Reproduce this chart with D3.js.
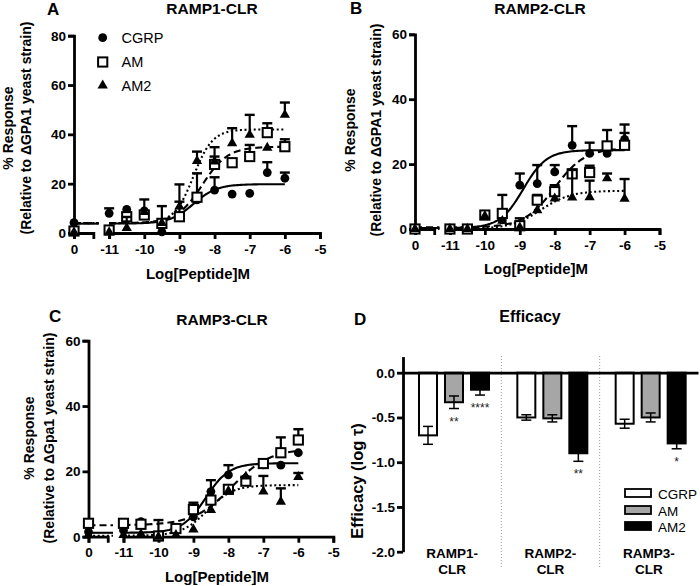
<!DOCTYPE html>
<html><head><meta charset="utf-8">
<script src="https://cdn.jsdelivr.net/npm/d3@7"></script>
<style>
body{margin:0;background:#fff;}
svg{display:block;font-family:"Liberation Sans",Arial,sans-serif;}
</style></head><body>
<svg id="c" width="700" height="586"></svg>
<script>
// ---------- DATA ----------
const doses = [0, -11, -10.5, -10, -9.5, -9, -8.5, -8, -7.5, -7, -6.5, -6];
const xTickLabels = ["0", "-11", "-10", "-9", "-8", "-7", "-6", "-5"];
const series = ["CGRP", "AM", "AM2"];

// Panel A: RAMP1-CLR
const aCGRP    = [4.2, 8.0, 9.6, 9.0, 0.5, 7.0, 13.4, 17.4, 15.8, 16.1, 24.5, 22.2];
const aCGRPErr = [0, 2.0, 0, 4.6, 0, 0, 0, 5.2, 0, 0, 4.2, 2.3];
const aAM      = [0.8, 1.2, 6.6, 7.3, 3.9, 6.6, 14.5, 27.8, 28.5, 31.0, 40.7, 35.0];
const aAMErr   = [0, 0, 0, 0, 7.0, 6.1, 9.7, 3.2, 0, 4.7, 3.8, 3.0];
const aAM2     = [0.3, 0.3, 2.0, 8.5, 4.0, 10.7, 29.2, 29.0, 36.4, 39.8, 34.6, 47.9];
const aAM2Err  = [0, 0, 4.5, 0, 0, 9.0, 3.8, 5.8, 6.1, 8.1, 0, 5.0];
// fitted curves: [bottom, top, logEC50, hill]
const aFitCGRP = [3.8, 19.8, -8.6, 1.3];
const aFitAM   = [4.0, 35.0, -8.35, 1.2];
const aFitAM2  = [4.0, 42.0, -8.6, 1.6];

// Panel B: RAMP2-CLR
const bCGRP    = [0, 0, 0, 4.3, 2.8, 13.5, 14.0, 17.6, 25.8, 23.3, 23.3, 27.6];
const bCGRPErr = [0, 0, 0, 0, 0, 3.6, 5.7, 2.1, 5.9, 3.3, 0, 4.6];
const bAM      = [0, 0, 0, 4.3, 4.8, 1.0, 8.9, 11.5, 17.0, 17.4, 25.6, 25.8];
const bAMErr   = [0, 0, 0, 0, 5.7, 2.3, 1.6, 2.0, 1.2, 2.1, 4.9, 3.8];
const bAM2     = [0, 0, 0, 4.0, 2.5, 0.5, 5.8, 9.4, 9.7, 9.8, 15.6, 9.3];
const bAM2Err  = [0, 0, 0, 0, 0, 0, 0, 0, 8.5, 5.1, 1.5, 6.1];
const bFitCGRP = [0.3, 24.3, -8.9, 1.3];
const bFitAM   = [0.5, 25.0, -8.0, 1.0];
const bFitAM2  = [0.0, 11.8, -8.4, 1.0];

// Panel C: RAMP3-CLR
const cCGRP    = [1.5, 2.0, 4.6, 0.5, 2.0, 6.1, 13.8, 18.9, 17.8, 22.0, 21.9, 25.7];
const cCGRPErr = [0, 0, 0, 4.6, 0, 0, 3.5, 3.0, 0, 0, 0, 0];
const cAM      = [4.1, 4.1, 3.8, 0.2, 2.5, 8.3, 11.2, 14.5, 17.0, 22.4, 25.7, 29.6];
const cAMErr   = [0, 0, 0, 0, 0, 2.1, 0, 0, 0, 0, 4.7, 3.3];
const cAM2     = [0.5, 0.5, 0.8, 0.0, 0.5, 2.2, 8.2, 14.0, 18.4, 13.8, 10.7, 18.3];
const cAM2Err  = [0, 0, 0, 0, 0, 0, 0, 0, 0, 4.8, 4.1, 1.2];
const cFitCGRP = [1.2, 22.5, -8.65, 1.3];
const cFitAM   = [3.5, 27.0, -7.9, 0.8];
const cFitAM2  = [0.3, 15.8, -8.6, 1.2];

// Panel D: Efficacy
const dGroups   = ["RAMP1-CLR", "RAMP2-CLR", "RAMP3-CLR"];
const dCGRP     = [-0.70, -0.50, -0.57];
const dCGRPErr  = [0.10, 0.03, 0.05];
const dAM       = [-0.33, -0.51, -0.50];
const dAMErr    = [0.07, 0.04, 0.05];
const dAM2      = [-0.19, -0.90, -0.79];
const dAM2Err   = [0.06, 0.09, 0.06];
const dCGRPSig  = ["", "", ""];
const dAMSig    = ["**", "", ""];
const dAM2Sig   = ["****", "**", "*"];
const dYTicks   = [0, -0.5, -1.0, -1.5, -2.0];

// ---------- DRAWING ----------
const svg = d3.select("#c");
const FONT = '"Liberation Sans", Arial, sans-serif';

function styleAxis(g, fs) {
  g.selectAll(".domain").attr("stroke", "#000").attr("stroke-width", 2.8);
  g.selectAll(".tick line").attr("stroke", "#000").attr("stroke-width", 2.8);
  g.selectAll(".tick text").attr("font-size", fs).attr("font-weight", "bold")
    .attr("fill", "#000").attr("font-family", FONT);
}
function fourPL(p, x) { return p[0] + (p[1] - p[0]) / (1 + Math.pow(10, (p[2] - x) * p[3])); }

const styles = {
  CGRP: { dash: null },
  AM:   { dash: "7,4" },
  AM2:  { dash: "2,2.6" }
};

function marker(g, s, cx, cy) {
  if (s === "CGRP") {
    g.append("circle").attr("cx", cx).attr("cy", cy).attr("r", 4.4).attr("fill", "#000");
  } else if (s === "AM") {
    g.append("rect").attr("x", cx - 4.6).attr("y", cy - 4.6).attr("width", 9.2).attr("height", 9.2)
      .attr("fill", "#fff").attr("stroke", "#000").attr("stroke-width", 2);
  } else {
    g.append("path").attr("d", d3.symbol().type(d3.symbolTriangle).size(46)())
      .attr("transform", `translate(${cx},${cy})`).attr("fill", "#000");
  }
}

function drawDR(cfg) {
  const g = svg.append("g");
  const x = d3.scaleLinear().domain([-12, -5]).range(cfg.xr);
  const y = d3.scaleLinear().domain([0, cfg.ymax]).range(cfg.yr);
  const pos = d => d === 0 ? -12 : d;

  // fitted curves
  const line = d3.line().x(d => x(d[0])).y(d => y(d[1]));
  series.forEach(s => {
    const p = cfg.fits[s];
    const pts = d3.range(-11, -5.999, 0.05).map(v => [v, fourPL(p, v)]);
    g.append("path").attr("d", line(pts)).attr("fill", "none").attr("stroke", "#000")
      .attr("stroke-width", 2.1).attr("stroke-dasharray", styles[s].dash);
    g.append("path").attr("d", line([[-12, p[0]], [-11.3, p[0]]])).attr("fill", "none")
      .attr("stroke", "#000").attr("stroke-width", 2.1).attr("stroke-dasharray", styles[s].dash);
  });

  // axes
  const ya = g.append("g").attr("transform", `translate(${x(-12)},0)`)
    .call(d3.axisLeft(y).tickValues(cfg.yTicks).tickSize(6).tickPadding(2).tickFormat(d => String(d)));
  styleAxis(ya, 13.5);
  const xz = d3.scaleLinear().domain([-12, -11.45]).range([x(-12), x(-11.45)]);
  const xa0 = g.append("g").attr("transform", `translate(0,${y(0)})`)
    .call(d3.axisBottom(xz).tickValues([-12]).tickFormat(() => xTickLabels[0]).tickSize(6).tickPadding(5));
  styleAxis(xa0, 13.5);
  const xm = d3.scaleLinear().domain([-11, -5]).range([x(-11), x(-5)]);
  const mainTicks = d3.range(-11, -4, 1);
  const xa1 = g.append("g").attr("transform", `translate(0,${y(0)})`)
    .call(d3.axisBottom(xm).tickValues(mainTicks).tickFormat((d, i) => xTickLabels[i + 1]).tickSize(6).tickPadding(5));
  styleAxis(xa1, 13.5);

  // error bars + points
  series.forEach(s => {
    const vals = cfg.vals[s], errs = cfg.errs[s];
    doses.forEach((d, i) => {
      const cx = x(pos(d)), cy = y(vals[i]);
      if (errs[i] > 0) {
        const ty = y(vals[i] + errs[i]);
        g.append("line").attr("x1", cx).attr("x2", cx).attr("y1", cy).attr("y2", ty)
          .attr("stroke", "#000").attr("stroke-width", 2.2);
        g.append("line").attr("x1", cx - 5).attr("x2", cx + 5).attr("y1", ty).attr("y2", ty)
          .attr("stroke", "#000").attr("stroke-width", 2.4);
      }
    });
    doses.forEach((d, i) => marker(g, s, x(pos(d)), y(vals[i])));
  });

  // texts
  g.append("text").attr("x", cfg.letter[0]).attr("y", cfg.letter[1]).text(cfg.letterText)
    .attr("font-size", 17).attr("font-weight", "bold");
  g.append("text").attr("x", cfg.title[0]).attr("y", cfg.title[1]).text(cfg.titleText)
    .attr("text-anchor", "middle").attr("font-size", 15.5).attr("font-weight", "bold");
  g.append("text").attr("x", cfg.xlab[0]).attr("y", cfg.xlab[1]).text("Log[Peptide]M")
    .attr("text-anchor", "middle").attr("font-size", 15).attr("font-weight", "bold");
  g.append("text").attr("transform", `translate(${cfg.ylab1[0]},${cfg.ylab1[2]}) rotate(-90)`)
    .text("% Response").attr("text-anchor", "middle").attr("font-size", 14).attr("font-weight", "bold");
  g.append("text").attr("transform", `translate(${cfg.ylab1[1]},${cfg.ylab1[2]}) rotate(-90)`)
    .text(cfg.ylabText).attr("text-anchor", "middle").attr("font-size", 14).attr("font-weight", "bold");
  return g;
}

const gA = drawDR({
  xr: [74, 320], yr: [233, 35.7], ymax: 80, yTicks: [0, 20, 40, 60, 80],
  vals: { CGRP: aCGRP, AM: aAM, AM2: aAM2 }, errs: { CGRP: aCGRPErr, AM: aAMErr, AM2: aAM2Err },
  fits: { CGRP: aFitCGRP, AM: aFitAM, AM2: aFitAM2 },
  letter: [47, 15], letterText: "A", title: [212, 14], titleText: "RAMP1-CLR",
  xlab: [198, 278.5], ylab1: [13, 30.5, 128], ylabText: "(Relative to \u0394GPA1 yeast strain)"
});
const gB = drawDR({
  xr: [415, 659.5], yr: [229, 34.3], ymax: 60, yTicks: [0, 20, 40, 60],
  vals: { CGRP: bCGRP, AM: bAM, AM2: bAM2 }, errs: { CGRP: bCGRPErr, AM: bAMErr, AM2: bAM2Err },
  fits: { CGRP: bFitCGRP, AM: bFitAM, AM2: bFitAM2 },
  letter: [350, 14], letterText: "B", title: [540, 14], titleText: "RAMP2-CLR",
  xlab: [536, 273.5], ylab1: [355, 380.5, 130], ylabText: "(Relative to \u0394GPA1 yeast strain)"
});
const gC = drawDR({
  xr: [88.5, 333.3], yr: [536.7, 340.7], ymax: 60, yTicks: [0, 20, 40, 60],
  vals: { CGRP: cCGRP, AM: cAM, AM2: cAM2 }, errs: { CGRP: cCGRPErr, AM: cAMErr, AM2: cAM2Err },
  fits: { CGRP: cFitCGRP, AM: cFitAM, AM2: cFitAM2 },
  letter: [49, 322], letterText: "C", title: [222, 325], titleText: "RAMP3-CLR",
  xlab: [217, 581.5], ylab1: [34, 53.5, 438], ylabText: "(Relative to \u0394Gpa1 yeast strain)"
});

// Legend in A
series.forEach((s, i) => {
  const ly = [37.7, 62, 85.5][i];
  marker(gA, s, 102.7, ly);
  gA.append("text").attr("x", 121.5).attr("y", ly + 5).text(s).attr("font-size", 14.5);
});

// ---------- Panel D ----------
const gD = svg.append("g");
const yD = d3.scaleLinear().domain([-2, 0.18]).range([551.7, 356.6]);
const xD = d3.scaleBand().domain(dGroups).range([403, 698]);
const xIn = d3.scaleBand().domain(series).range([16, 86]).paddingInner(0.3077);
const dVals = { CGRP: dCGRP, AM: dAM, AM2: dAM2 };
const dErrs = { CGRP: dCGRPErr, AM: dAMErr, AM2: dAM2Err };
const dSig = { CGRP: dCGRPSig, AM: dAMSig, AM2: dAM2Sig };
const dFill = { CGRP: "#ffffff", AM: "#a6a6a6", AM2: "#000000" };

// separators
dGroups.slice(1).forEach(gname => {
  gD.append("line").attr("x1", xD(gname)).attr("x2", xD(gname)).attr("y1", 356).attr("y2", 567)
    .attr("stroke", "#9a9a9a").attr("stroke-width", 1).attr("stroke-dasharray", "1,2");
});

dGroups.forEach((gname, gi) => {
  series.forEach(s => {
    const v = dVals[s][gi], e = dErrs[s][gi];
    const bx = xD(gname) + xIn(s), bw = xIn.bandwidth();
    gD.append("rect").attr("x", bx).attr("y", yD(0)).attr("width", bw).attr("height", yD(v) - yD(0))
      .attr("fill", dFill[s]).attr("stroke", "#000").attr("stroke-width", 2);
    const cx = bx + bw / 2;
    gD.append("line").attr("x1", cx).attr("x2", cx).attr("y1", yD(v + e)).attr("y2", yD(v - e))
      .attr("stroke", "#000").attr("stroke-width", 1.5);
    [v + e, v - e].forEach(t => gD.append("line").attr("x1", cx - 5).attr("x2", cx + 5)
      .attr("y1", yD(t)).attr("y2", yD(t)).attr("stroke", "#000").attr("stroke-width", 1.5));
    if (dSig[s][gi]) {
      gD.append("text").attr("x", cx).attr("y", yD(v - e) + 17).text(dSig[s][gi])
        .attr("text-anchor", "middle").attr("font-size", 12).attr("fill", "#222");
    }
  });
  const lbl = gD.append("text").attr("text-anchor", "middle").attr("font-size", 13.5).attr("font-weight", "bold");
  const parts = gname.split("-");
  lbl.append("tspan").attr("x", xD(gname) + xD.bandwidth() / 2).attr("y", 558).text(parts[0] + "-");
  lbl.append("tspan").attr("x", xD(gname) + xD.bandwidth() / 2).attr("y", 573.5).text(parts[1]);
});

// axes D
const yaD = gD.append("g").attr("transform", `translate(403,0)`)
  .call(d3.axisLeft(yD).tickValues(dYTicks).tickSize(6).tickPadding(2).tickSizeOuter(0).tickFormat(d => d.toFixed(1)));
styleAxis(yaD, 13.5);
const xaD = gD.append("g").attr("transform", `translate(0,${yD(0)})`)
  .call(d3.axisBottom(xD).tickSize(0).tickSizeOuter(0).tickFormat(""));
styleAxis(xaD, 13.5);

// legend D
series.forEach((s, i) => {
  const ty = [489, 506, 522][i];
  gD.append("rect").attr("x", 625).attr("y", ty).attr("width", 26).attr("height", 8)
    .attr("fill", dFill[s]).attr("stroke", "#000").attr("stroke-width", 1.8);
  gD.append("text").attr("x", 658).attr("y", ty + 9.5).text(s).attr("font-size", 13.5);
});

gD.append("text").attr("x", 354).attr("y", 325).text("D").attr("font-size", 17).attr("font-weight", "bold");
gD.append("text").attr("x", 530).attr("y", 322).text("Efficacy").attr("text-anchor", "middle")
  .attr("font-size", 16).attr("font-weight", "bold");
gD.append("text").attr("transform", `translate(363,481) rotate(-90)`).text("Efficacy (log \u03c4)")
  .attr("text-anchor", "middle").attr("font-size", 16.5).attr("font-weight", "bold");
</script>
</body></html>
